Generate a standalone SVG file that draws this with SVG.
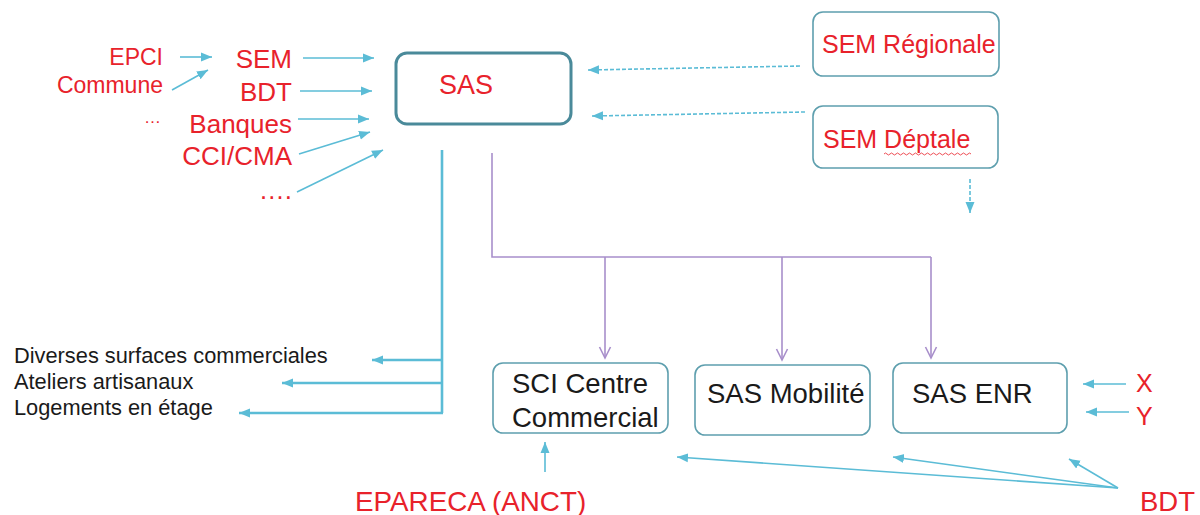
<svg xmlns="http://www.w3.org/2000/svg" width="1200" height="515" viewBox="0 0 1200 515">
<style>
.red{fill:#e8222b;font-family:"Liberation Sans",Arial,sans-serif}
.blk{fill:#1a1a1a;font-family:"Liberation Sans",Arial,sans-serif}
.box{fill:#fff;stroke:#5e9fae;stroke-width:1.6}
.blue{stroke:#5bbcd6;stroke-width:1.6;fill:none}
.bluethick{stroke:#5bbcd6;stroke-width:2.6;fill:none}
.dash{stroke:#5bbcd6;stroke-width:1.6;fill:none;stroke-dasharray:4 2}
.purple{stroke:#a88fcb;stroke-width:1.6;fill:none}
</style>
<defs>
<marker id="ab" markerUnits="userSpaceOnUse" markerWidth="12" markerHeight="12" viewBox="0 0 12 12" refX="11" refY="6" orient="auto"><path d="M0,1.5 L11,6 L0,10.5 Z" fill="#5bbcd6"/></marker>
<marker id="ap" markerUnits="userSpaceOnUse" markerWidth="14" markerHeight="14" viewBox="0 0 14 14" refX="12" refY="7" orient="auto"><path d="M1,1.5 L12,7 L1,12.5" fill="none" stroke="#a88fcb" stroke-width="1.6"/></marker>
</defs>

<g id="connectors">
<!-- left inputs -->
<line class="blue" x1="180" y1="57" x2="212" y2="57" marker-end="url(#ab)"/>
<line class="blue" x1="172" y1="90" x2="208" y2="70" marker-end="url(#ab)"/>
<line class="blue" x1="303" y1="58" x2="374" y2="58" marker-end="url(#ab)"/>
<line class="blue" x1="300" y1="91" x2="372" y2="91" marker-end="url(#ab)"/>
<line class="blue" x1="298" y1="119" x2="369" y2="119" marker-end="url(#ab)"/>
<line class="blue" x1="299" y1="154" x2="370" y2="132" marker-end="url(#ab)"/>
<line class="blue" x1="297" y1="192" x2="383" y2="150" marker-end="url(#ab)"/>
<!-- dashed from SEM boxes -->
<line class="dash" x1="800" y1="66" x2="588" y2="70" marker-end="url(#ab)"/>
<line class="dash" x1="805" y1="112" x2="592" y2="116" marker-end="url(#ab)"/>
<line class="dash" x1="970" y1="179" x2="970" y2="213" marker-end="url(#ab)"/>
<!-- SAS to outputs -->
<polyline class="bluethick" points="442,150 442,413"/>
<line class="bluethick" x1="443" y1="360" x2="372" y2="360" marker-end="url(#ab)"/>
<line class="bluethick" x1="443" y1="383" x2="282" y2="383" marker-end="url(#ab)"/>
<line class="bluethick" x1="443" y1="413" x2="239" y2="413" marker-end="url(#ab)"/>
<!-- SAS to subsidiaries -->
<polyline class="purple" points="492,153 492,257 931,257"/>
<line class="purple" x1="605" y1="257" x2="605" y2="358" marker-end="url(#ap)"/>
<line class="purple" x1="782" y1="257" x2="782" y2="360" marker-end="url(#ap)"/>
<line class="purple" x1="931" y1="257" x2="931" y2="358" marker-end="url(#ap)"/>
<!-- X Y -->
<line class="blue" x1="1126" y1="384" x2="1083" y2="384" marker-end="url(#ab)"/>
<line class="blue" x1="1129" y1="412" x2="1086" y2="412" marker-end="url(#ab)"/>
<!-- EPARECA -->
<line class="blue" x1="545" y1="472" x2="545" y2="442" marker-end="url(#ab)"/>
<!-- BDT bottom -->
<line class="blue" x1="1118" y1="488" x2="677" y2="457" marker-end="url(#ab)"/>
<line class="blue" x1="1118" y1="488" x2="893" y2="457" marker-end="url(#ab)"/>
<line class="blue" x1="1118" y1="488" x2="1069" y2="459" marker-end="url(#ab)"/>
</g>

<g id="inputs-left">
<text class="red" x="163" y="65" font-size="23" text-anchor="end">EPCI</text>
<text class="red" x="163" y="93" font-size="23" text-anchor="end">Commune</text>
<text class="red" x="161" y="123" font-size="17" text-anchor="end">…</text>
<text class="red" x="292" y="68" font-size="26" text-anchor="end">SEM</text>
<text class="red" x="292" y="101" font-size="26" text-anchor="end">BDT</text>
<text class="red" x="292" y="133" font-size="26" text-anchor="end">Banques</text>
<text class="red" x="292" y="165" font-size="26" text-anchor="end">CCI/CMA</text>
<text class="red" x="292" y="199" font-size="26" text-anchor="end">….</text>
</g>

<g id="sas">
<rect x="396" y="53" width="175" height="71" rx="11" fill="#fff" stroke="#4a8a9a" stroke-width="3"/>
<text class="red" x="466" y="94" font-size="27" text-anchor="middle">SAS</text>
</g>

<g id="sem-regionale">
<rect class="box" x="813" y="12" width="186" height="64" rx="10"/>
<text class="red" x="822" y="53" font-size="25">SEM Régionale</text>
</g>

<g id="sem-deptale">
<rect class="box" x="813" y="106" width="185" height="62" rx="10"/>
<text class="red" x="823" y="148" font-size="25">SEM Déptale</text>
<path d="M884,154 q1.5,-2 3,0 t3,0 t3,0 t3,0 t3,0 t3,0 t3,0 t3,0 t3,0 t3,0 t3,0 t3,0 t3,0 t3,0 t3,0 t3,0 t3,0 t3,0 t3,0 t3,0 t3,0 t3,0 t3,0 t3,0 t3,0 t3,0 t3,0 t3,0 t3,0" fill="none" stroke="#e8222b" stroke-width="0.8"/>
</g>

<g id="outputs-left">
<text class="blk" x="14" y="363" font-size="21.8">Diverses surfaces commerciales</text>
<text class="blk" x="14" y="389" font-size="21.8">Ateliers artisanaux</text>
<text class="blk" x="14" y="415" font-size="21.8">Logements en étage</text>
</g>

<g id="sci">
<rect class="box" x="493" y="363" width="175" height="70" rx="10"/>
<text class="blk" x="512" y="393" font-size="27.5">SCI Centre</text>
<text class="blk" x="512" y="427" font-size="27.5">Commercial</text>
</g>

<g id="sas-mobilite">
<rect class="box" x="695" y="365" width="175" height="70" rx="10"/>
<text class="blk" x="707" y="403" font-size="27.5">SAS Mobilité</text>
</g>

<g id="sas-enr">
<rect class="box" x="893" y="363" width="174" height="70" rx="10"/>
<text class="blk" x="912" y="403" font-size="27.5">SAS ENR</text>
</g>

<g id="xy">
<text class="red" x="1136" y="392" font-size="25">X</text>
<text class="red" x="1136" y="425" font-size="25">Y</text>
</g>

<g id="epareca">
<text class="red" x="355" y="511" font-size="27.8">EPARECA (ANCT)</text>
</g>

<g id="bdt">
<text class="red" x="1140" y="511" font-size="27.5">BDT</text>
</g>
</svg>
